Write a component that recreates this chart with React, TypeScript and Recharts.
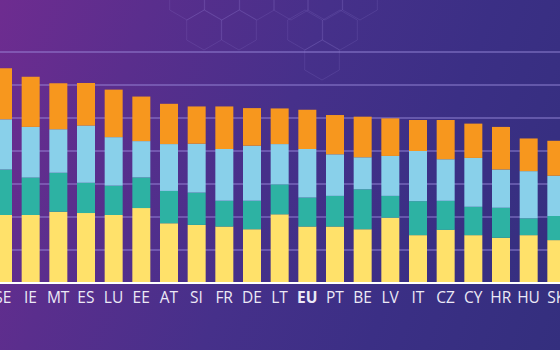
import React from "react";
import { BarChart, Bar, XAxis, YAxis, CartesianGrid } from "recharts";

const countries = ["SE","IE","MT","ES","LU","EE","AT","SI","FR","DE","LT","EU","PT","BE","LV","IT","CZ","CY","HR","HU","SK"];
const yellowVals = [20.6,20.6,21.6,21.2,20.6,22.7,18.1,17.6,17.1,16.3,20.8,17.1,17.1,16.3,19.8,14.5,16.1,14.5,13.7,14.5,13.0];
const tealVals   = [13.8,11.4,11.8,9.2,8.9,9.3,9.8,9.8,7.8,8.6,9.1,8.8,9.3,12.1,6.6,10.3,8.8,8.6,9.1,5.1,7.3];
const blueVals   = [15.2,15.3,13.2,17.3,14.7,11.0,14.2,14.8,15.7,16.7,12.2,14.7,12.6,9.7,12.1,15.2,12.6,14.8,11.6,14.3,12.2];
const orangeVals = [15.5,15.2,13.9,12.9,14.4,13.5,12.2,11.3,12.9,11.4,10.8,11.9,11.9,12.3,11.4,9.4,11.9,10.4,12.9,9.9,10.6];
const yTicks = [0,10,20,30,40,50,60,70];

const data = countries.map((c, i) => ({
  country: c,
  yellow: yellowVals[i],
  teal: tealVals[i],
  blue: blueVals[i],
  orange: orangeVals[i],
}));

const Tick = (props: any) => {
  const { x, y, payload } = props;
  const isEU = payload.value === "EU";
  return (
    <text
      x={x}
      y={y}
      dy={20}
      textAnchor="middle"
      fill="#ece9f6"
      fontSize={15.5}
      fontFamily="'Open Sans', sans-serif"
      fontWeight={isEU ? 700 : 400}
    >
      {payload.value}
    </text>
  );
};

const hexPath = (cx: number, cy: number, r: number) => {
  const pts: string[] = [];
  for (let k = 0; k < 6; k++) {
    const a = (Math.PI / 3) * k + Math.PI / 6;
    pts.push(`${(cx + r * Math.cos(a)).toFixed(1)},${(cy + r * Math.sin(a)).toFixed(1)}`);
  }
  return "M" + pts.join("L") + "Z";
};

const hexCenters: [number, number][] = [
  [187, 0], [222, 0], [257, 0], [291, 0], [325, 0], [360, 0],
  [204, 30], [239, 30], [305, 30], [340, 30],
  [322, 60],
];

export default function App() {
  return (
    <div
      style={{
        position: "fixed",
        left: 0,
        top: 0,
        width: 560,
        height: 350,
        overflow: "hidden",
        background: "linear-gradient(110deg, #6e2c90 0%, #5a2e8d 22%, #46308a 48%, #3b2f85 72%, #342f7e 100%)",
      }}
    >
      <svg width={560} height={350} style={{ position: "absolute", left: 0, top: 0 }}>
        {hexCenters.map(([cx, cy], i) => (
          <path key={i} d={hexPath(cx, cy, 20)} fill="none" stroke="#9a8ad8" strokeOpacity={0.16} strokeWidth={1} />
        ))}
      </svg>
      <div style={{ position: "absolute", left: -11, top: 0 }}>
        <BarChart
          width={581}
          height={350}
          data={data}
          margin={{ top: 52, right: 0, bottom: 27, left: 0 }}
          barSize={18}
        >
          <CartesianGrid horizontal vertical={false} stroke="#a596e6" strokeOpacity={0.8} strokeWidth={1.2} />
          <YAxis hide domain={[0, 70]} ticks={yTicks} />
          <XAxis
            dataKey="country"
            height={40}
            interval={0}
            tickLine={false}
            tickSize={0}
            tickMargin={0}
            axisLine={{ stroke: "#ffffff", strokeWidth: 2 }}
            tick={<Tick />}
          />
          <Bar dataKey="yellow" stackId="a" fill="#ffe16a" isAnimationActive={false} />
          <Bar dataKey="teal" stackId="a" fill="#2db2a3" isAnimationActive={false} />
          <Bar dataKey="blue" stackId="a" fill="#89d0ea" isAnimationActive={false} />
          <Bar dataKey="orange" stackId="a" fill="#f7971e" isAnimationActive={false} />
        </BarChart>
      </div>
    </div>
  );
}
